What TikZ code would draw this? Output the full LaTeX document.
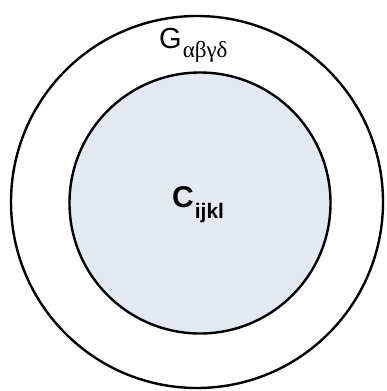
\documentclass[tikz,border=0pt]{standalone}
\usepackage{fontspec}
\setmainfont{Liberation Sans}
\newfontfamily\greekfont{Liberation Serif}
\begin{document}
\begin{tikzpicture}[x=1pt,y=-1pt,
  ring/.style={draw=black,line width=2.4pt},
  lbl/.style={inner sep=0pt,anchor=base west}]
\useasboundingbox (0,0) rectangle (386,391);
\definecolor{corefill}{RGB}{228,232,240}
\node[ring,circle,minimum size=372pt,inner sep=0pt] (outer) at (197,202) {};
\node[ring,circle,fill=corefill,minimum size=261pt,inner sep=0pt] (inner) at (200,203) {};
\node[lbl] (g) at (159,48) {\fontsize{29}{29}\selectfont G\kern1pt\raisebox{-9pt}{\greekfont\fontsize{23}{23}\selectfont αβγδ}};
\node[lbl] (c) at (172,207) {\fontsize{30}{30}\selectfont\bfseries C\kern1pt\raisebox{-11pt}{\fontsize{21}{21}\selectfont ijkl}};
\end{tikzpicture}
\end{document}
